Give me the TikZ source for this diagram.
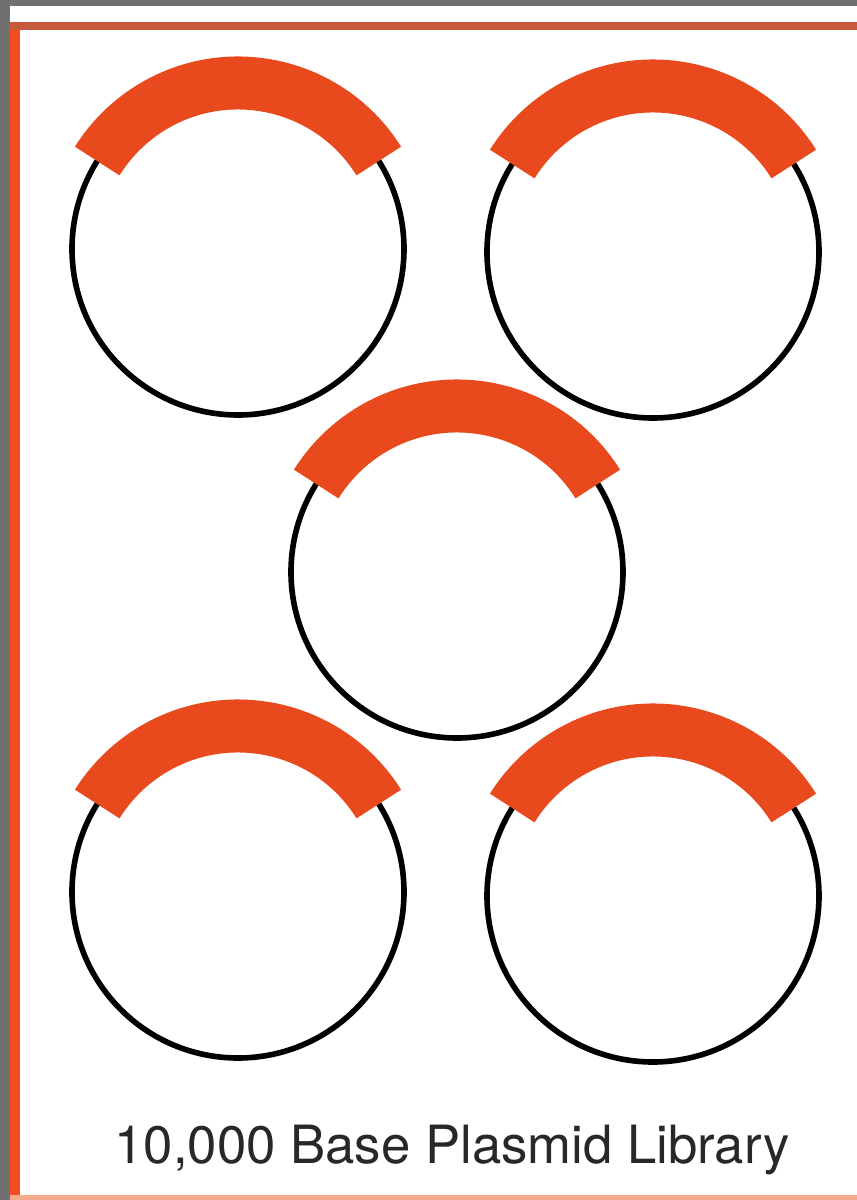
\documentclass[tikz,border=0pt]{standalone}
\usepackage{fontspec}
\setmainfont{TeX Gyre Heros}
\definecolor{bggray}{RGB}{112,112,112}
\definecolor{frameorange}{RGB}{240,78,30}
\definecolor{topline}{RGB}{200,90,60}
\definecolor{bottomline}{RGB}{246,170,140}
\definecolor{insertorange}{RGB}{232,74,30}
\definecolor{textgray}{RGB}{40,40,40}
\tikzset{
  plasmid/.style={circle, draw=black, line width=1.6pt, minimum size=3.32cm, inner sep=0pt},
  insert/.style={draw=insertorange, line width=0.53cm, line cap=butt},
  caption/.style={font=\fontsize{15}{18}\selectfont, text=textgray, anchor=base, inner sep=0pt}
}
\begin{document}
\begin{tikzpicture}
\useasboundingbox (0,0) rectangle (8.57,12);
\fill[bggray] (0,0) rectangle (8.57,12);
\fill[white] (0.10,0) rectangle (8.57,11.94);
\fill[frameorange] (0.10,0) rectangle (0.20,11.78);
\fill[topline] (0.10,11.70) rectangle (8.57,11.78);
\fill[bottomline] (0.10,0) rectangle (8.57,0.05);
% plasmids
\node[plasmid] (p1) at (2.38,9.51) {};
\node[plasmid] (p2) at (6.53,9.48) {};
\node[plasmid] (p3) at (4.57,6.28) {};
\node[plasmid] (p4) at (2.38,3.08) {};
\node[plasmid] (p5) at (6.53,3.04) {};
\foreach \p in {p1,p2,p3,p4,p5}{
  \draw[insert] (\p.center) ++(32:1.66) arc (32:148:1.66);
}
\node[caption] (cap) at (4.52,0.37) {10,000 Base Plasmid Library};
\end{tikzpicture}
\end{document}
